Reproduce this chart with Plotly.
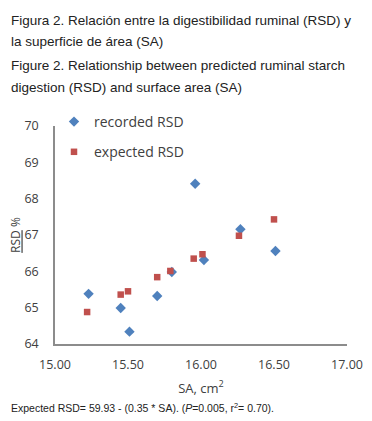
import plotly.graph_objects as go

# ---- data ----
sa_recorded = [15.23, 15.45, 15.51, 15.70, 15.80, 15.96, 16.02, 16.27, 16.51]
rsd_recorded = [65.38, 64.99, 64.34, 65.32, 65.98, 68.41, 66.31, 67.16, 66.56]

sa_expected = [15.22, 15.45, 15.50, 15.70, 15.79, 15.95, 16.01, 16.26, 16.50]
rsd_expected = [64.88, 65.36, 65.45, 65.84, 66.01, 66.35, 66.47, 66.98, 67.43]

x_ticks = [15.0, 15.5, 16.0, 16.5, 17.0]
x_tick_labels = ["15.00", "15.50", "16.00", "16.50", "17.00"]
y_ticks = [64, 65, 66, 67, 68, 69, 70]

W, H = 372, 421
M_L, M_R, M_T, M_B = 55, 25, 126, 77
PH = H - M_T - M_B


def py(px_y):
    """pixel y (from top) -> paper y"""
    return 1 - (px_y - M_T) / PH


def px(px_x):
    return (px_x - M_L) / (W - M_L - M_R)


FONT = "Liberation Sans, Arial, sans-serif"
AXFONT = "Open Sans, Liberation Sans, sans-serif"

fig = go.Figure()
fig.add_trace(go.Scatter(
    x=sa_recorded, y=rsd_recorded, mode="markers", name="recorded RSD",
    legendgroup="a",
    marker=dict(symbol="diamond", size=8, color="#4F81BD"),
))
fig.add_trace(go.Scatter(
    x=sa_expected, y=rsd_expected, mode="markers", name="expected RSD",
    legendgroup="b",
    marker=dict(symbol="square", size=6.5, color="#C0504D"),
))

captions = [
    ("Figura 2. Relación entre la digestibilidad ruminal (RSD) y", 20),
    ("la superficie de área (SA)", 41),
    ("Figure 2. Relationship between predicted ruminal starch", 66),
    ("digestion (RSD) and surface area (SA)", 87),
]
annotations = []
for txt, yy in captions:
    annotations.append(dict(
        text=txt, xref="paper", yref="paper", x=px(9), y=py(yy),
        xanchor="left", yanchor="middle", showarrow=False,
        font=dict(family=FONT, size=13.5, color="#222222"),
    ))
annotations.append(dict(
    text="Expected RSD= 59.93 - (0.35 * SA). (<i>P</i>=0.005, r<sup>2</sup>= 0.70).",
    xref="paper", yref="paper", x=px(9), y=py(407),
    xanchor="left", yanchor="middle", showarrow=False,
    font=dict(family=FONT, size=10.5, color="#222222"),
))

fig.update_layout(
    width=W, height=H,
    margin=dict(l=M_L, r=M_R, t=M_T, b=M_B, pad=0, autoexpand=False),
    paper_bgcolor="white", plot_bgcolor="white",
    showlegend=True,
    legend=dict(
        x=px(54), y=py(106), xanchor="left", yanchor="top",
        bgcolor="rgba(0,0,0,0)", traceorder="grouped", tracegroupgap=9,
        font=dict(family=AXFONT, size=14, color="#404040"),
    ),
    xaxis=dict(
        range=[15, 17], tickvals=x_ticks, ticktext=x_tick_labels,
        automargin=False,
        showgrid=False, zeroline=False, showline=True, linecolor="#8C8C8C",
        linewidth=1.5, ticks="", ticklabelstandoff=8,
        tickfont=dict(family=AXFONT, size=12.5, color="#404040"),
        title=dict(text="SA, cm<sup>2</sup>", standoff=12,
                   font=dict(family=AXFONT, size=13, color="#404040")),
    ),
    yaxis=dict(
        range=[64, 70], tickvals=y_ticks,
        automargin=False,
        showgrid=False, zeroline=False, showline=True, linecolor="#8C8C8C",
        linewidth=1.5, ticks="", ticklabelstandoff=12,
        tickfont=dict(family=AXFONT, size=12.5, color="#404040"),
        title=dict(text="<u>RSD</u> %", standoff=0,
                   font=dict(family=AXFONT, size=12, color="#404040")),
    ),
    annotations=annotations,
)

fig.write_html("out.html", config={"displayModeBar": False},
               post_script="document.body.style.margin='0';")
